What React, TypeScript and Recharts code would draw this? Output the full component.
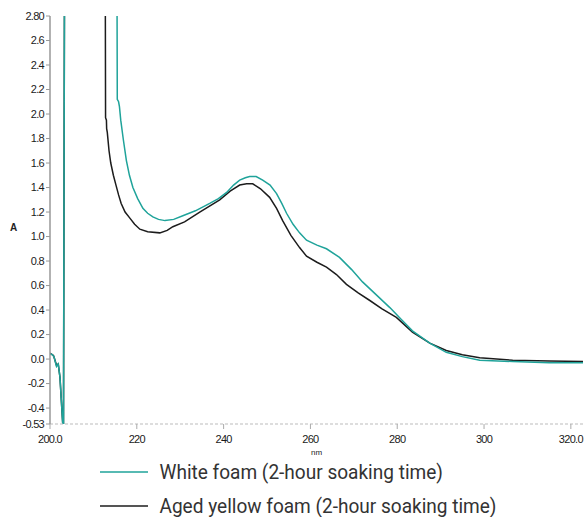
import React from 'react';
import { LineChart, Line, XAxis, YAxis, Legend, Label } from 'recharts';

const whiteWl = [200.0, 200.4, 200.9, 201.2, 201.5, 201.9, 202.3, 202.8, 203.1, 203.35, 205, 210, 215.3, 215.45, 215.5, 215.8, 216.0, 216.3, 216.9, 217.6, 218.3, 219.1, 220.2, 221.4, 222.5, 223.7, 225.0, 226.5, 228.5, 230.6, 233.5, 236.8, 238.8, 240.7, 242.3, 243.7, 245.0, 246.0, 247.5, 249.0, 250.7, 252.2, 253.4, 254.5, 256.0, 257.5, 259.1, 261.5, 263.7, 266.7, 269.5, 272.0, 275.0, 278.3, 281.0, 283.5, 287.5, 291.3, 295.0, 299.0, 306.6, 315.0, 322.8];
const whiteAbs = [0.04, 0.04, 0.02, -0.02, -0.06, -0.04, -0.15, -0.45, -0.62, 3.2, 3.6, 3.6, 3.2, 2.85, 2.12, 2.1, 2.06, 1.95, 1.79, 1.62, 1.5, 1.4, 1.31, 1.23, 1.19, 1.16, 1.14, 1.13, 1.14, 1.17, 1.21, 1.27, 1.31, 1.36, 1.42, 1.46, 1.48, 1.49, 1.49, 1.46, 1.42, 1.35, 1.27, 1.19, 1.1, 1.03, 0.97, 0.93, 0.9, 0.83, 0.73, 0.63, 0.53, 0.42, 0.32, 0.23, 0.13, 0.055, 0.02, -0.01, -0.02, -0.03, -0.03];

const yellowWl = [200.0, 200.3, 200.8, 201.15, 201.5, 201.9, 202.3, 202.8, 203.1, 203.35, 205, 212.6, 212.75, 212.8, 213.0, 213.05, 213.2, 213.6, 214.0, 214.6, 215.2, 215.8, 216.4, 217.3, 218.4, 219.5, 220.7, 222.5, 225.3, 227.0, 228.3, 231.0, 234.5, 239.1, 241.5, 243.7, 245.3, 246.7, 248.5, 250.6, 252.2, 253.6, 255.5, 257.5, 259.1, 261.5, 263.7, 266.0, 268.3, 271.0, 273.6, 276.5, 279.8, 283.5, 287.5, 291.3, 295.0, 299.0, 306.6, 315.0, 322.8];
const yellowAbs = [0.05, 0.04, 0.03, -0.01, -0.05, -0.04, -0.15, -0.45, -0.62, 3.2, 3.6, 3.4, 2.85, 1.97, 1.95, 1.88, 1.85, 1.7, 1.6, 1.5, 1.42, 1.34, 1.27, 1.2, 1.15, 1.1, 1.06, 1.04, 1.03, 1.05, 1.08, 1.12, 1.2, 1.3, 1.37, 1.42, 1.43, 1.43, 1.39, 1.32, 1.23, 1.13, 1.01, 0.91, 0.84, 0.79, 0.75, 0.69, 0.61, 0.54, 0.48, 0.41, 0.34, 0.22, 0.13, 0.07, 0.035, 0.01, -0.01, -0.015, -0.02];

const xTicks = [200, 220, 240, 260, 280, 300, 320];
const xTickLabels = ['200.0', '220', '240', '260', '280', '300', '320.0'];
const yTicks = [2.8, 2.6, 2.4, 2.2, 2.0, 1.8, 1.6, 1.4, 1.2, 1.0, 0.8, 0.6, 0.4, 0.2, 0.0, -0.2, -0.4, -0.53];
const yTickLabels = ['2.80', '2.6', '2.4', '2.2', '2.0', '1.8', '1.6', '1.4', '1.2', '1.0', '0.8', '0.6', '0.4', '0.2', '0.0', '-0.2', '-0.4', '-0.53'];

const seriesNames = ['White foam (2-hour soaking time)', 'Aged yellow foam (2-hour soaking time)'];
const seriesColors = ['#1fa39a', '#1c1c1c'];

const whiteData = whiteWl.map((wl, i) => ({ wl, v: whiteAbs[i] }));
const yellowData = yellowWl.map((wl, i) => ({ wl, v: yellowAbs[i] }));

const FONT = 'Liberation Sans, Arial, sans-serif';
const tickStyle = { fontFamily: FONT, fontSize: 11, fill: '#1a1a1a', letterSpacing: -0.7 };

const XTick = (props: any) => {
  const { x, y, payload, index } = props;
  const label = xTickLabels[xTicks.indexOf(payload.value)] ?? String(payload.value);
  const last = index === xTicks.length - 1;
  return (
    <text
      x={last ? x + 12 : x}
      y={y + 4}
      dy="0.71em"
      textAnchor={last ? 'end' : 'middle'}
      fontFamily={FONT}
      fontSize={11}
      fill="#1a1a1a"
      letterSpacing={-0.7}
    >
      {label}
    </text>
  );
};

const LegendContent = () => (
  <svg width={576} height={60} style={{ display: 'block', overflow: 'visible' }}>
    {seriesNames.map((name, i) => {
      const ly = 15 + i * 34;
      return (
        <g key={name}>
          <line x1={92} x2={140} y1={ly} y2={ly} stroke={seriesColors[i]} strokeWidth={1.5} />
          <text
            x={151.5}
            y={ly + 7}
            fontFamily="Roboto, sans-serif"
            fontSize={20}
            fill="#333"
            textLength={i === 0 ? 283.5 : 337}
            lengthAdjust="spacingAndGlyphs"
          >
            {name}
          </text>
        </g>
      );
    })}
  </svg>
);

export default function App() {
  return (
    <div style={{ position: 'absolute', left: 8, top: 8, width: 576, height: 509, overflow: 'hidden' }}>
      <LineChart width={576} height={509} margin={{ top: 8, right: 1, bottom: 9, left: 0 }}>
        <XAxis
          type="number"
          dataKey="wl"
          domain={[200, 322.8]}
          ticks={xTicks}
          allowDataOverflow
          height={24}
          tickSize={5}
          stroke="#aaa"
          axisLine={{ stroke: '#bbb', strokeDasharray: '3 2' }}
          tick={<XTick />}
          interval={0}
        >
          <Label value="nm" position="insideBottom" offset={-7} style={{ fontFamily: FONT, fontSize: 8, fill: '#222' }} />
        </XAxis>
        <YAxis
          type="number"
          domain={[-0.53, 2.8]}
          ticks={yTicks}
          tickFormatter={(v: number) => yTickLabels[yTicks.indexOf(v)] ?? String(v)}
          allowDataOverflow
          width={42}
          tickSize={4}
          tickMargin={2}
          stroke="#999"
          axisLine={{ stroke: '#999', strokeWidth: 1.5 }}
          tick={tickStyle}
          interval={0}
        >
          <Label value="A" position="insideLeft" offset={2} dy={7} style={{ fontFamily: FONT, fontSize: 10, fontWeight: 'bold', fill: '#222' }} />
        </YAxis>
        <Legend verticalAlign="bottom" align="left" height={60} wrapperStyle={{ top: 449, left: 0 }} content={<LegendContent />} />
        <Line data={yellowData} dataKey="v" name={seriesNames[1]} type="linear" stroke={seriesColors[1]} strokeWidth={1.5} dot={false} isAnimationActive={false} />
        <Line data={whiteData} dataKey="v" name={seriesNames[0]} type="linear" stroke={seriesColors[0]} strokeWidth={1.5} dot={false} isAnimationActive={false} />
      </LineChart>
    </div>
  );
}
